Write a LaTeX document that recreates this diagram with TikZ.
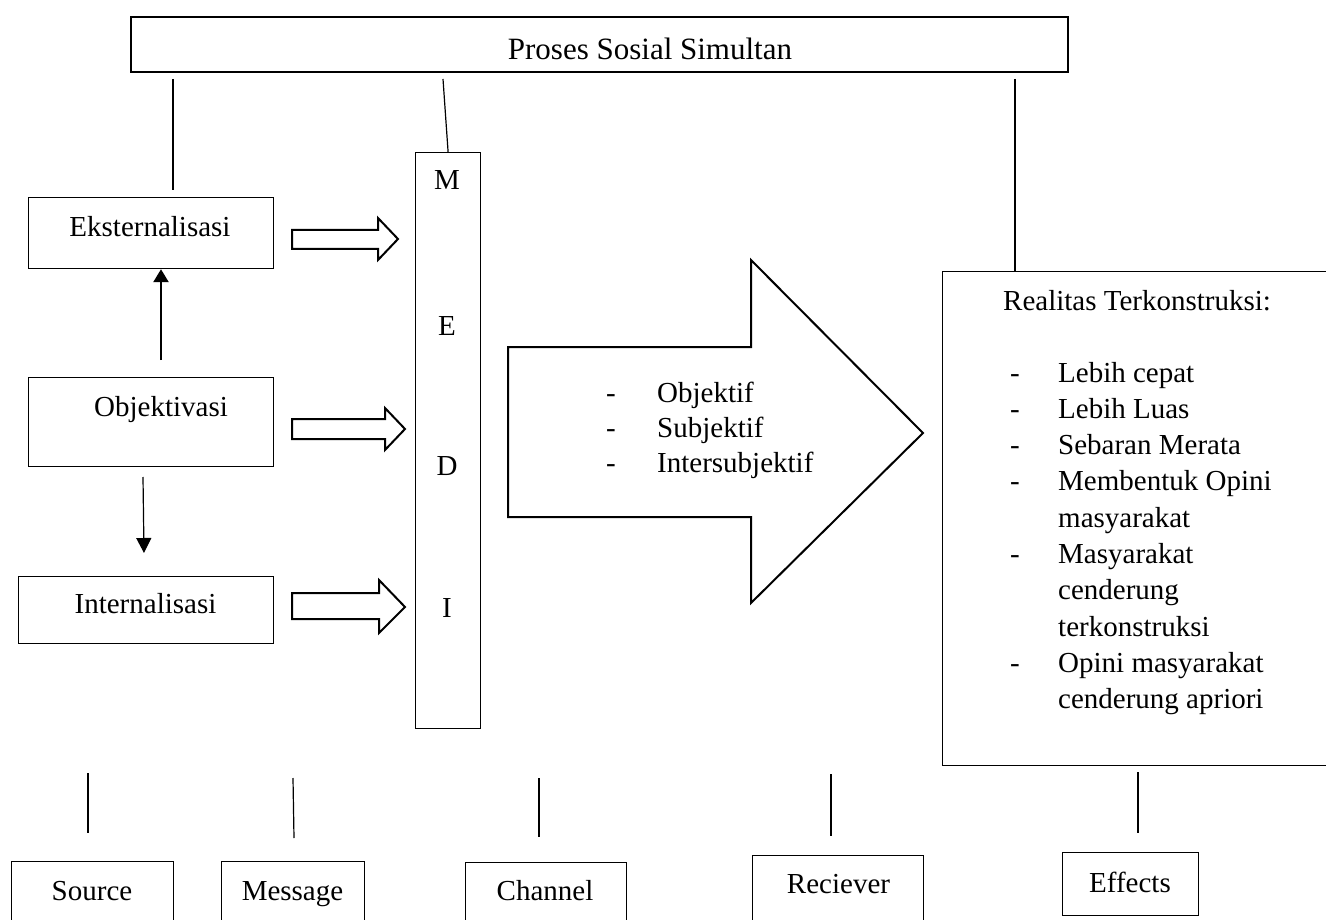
\documentclass[tikz,border=0pt]{standalone}
\usepackage{fontspec}
\setmainfont{Liberation Serif}
\usetikzlibrary{arrows.meta}
\begin{document}
\begin{tikzpicture}[x=1pt,y=-1pt,
  box/.style={draw, line width=1.2pt, inner sep=0pt, anchor=north west},
  txt/.style={inner sep=0pt, anchor=base, font=\fontsize{29}{36.5}\selectfont},
  ltxt/.style={inner sep=0pt, anchor=base west, font=\fontsize{29}{36.5}\selectfont},
  ln/.style={line width=1.2pt},
  blk/.style={draw, line width=2pt, line join=miter}]
\useasboundingbox (0,0) rectangle (1326,920);
\clip (0,0) rectangle (1326,920);

% top bar
\node[box, line width=2.4pt, minimum width=937pt, minimum height=55pt] (top) at (130,16) {};
\node[txt, font=\fontsize{31}{36}\selectfont] (ttop) at (650,60) {Proses Sosial Simultan};

% left boxes
\node[box, minimum width=245pt, minimum height=71pt] (eks) at (28,197) {};
\node[txt] (teks) at (150,237) {Eksternalisasi};
\node[box, minimum width=245pt, minimum height=89pt] (obj) at (28,377) {};
\node[txt] (tobj) at (161,416) {Objektivasi};
\node[box, minimum width=255pt, minimum height=67pt] (int) at (18,576) {};
\node[txt] (tint) at (145.5,613) {Internalisasi};

% media
\node[box, minimum width=65pt, minimum height=576pt] (media) at (415,152) {};
\node[txt] (lm) at (447,190) {M};
\node[txt] (le) at (447,335) {E};
\node[txt] (ld) at (447,475) {D};
\node[txt] (li) at (447,617) {I};

% realitas
\node[box, minimum width=400pt, minimum height=494pt] (real) at (942,271) {};
\node[ltxt] (treal) at (1003,310) {Realitas Terkonstruksi:};
\foreach \t/\d [count=\i from 0] in {Lebih cepat/1, Lebih Luas/1, Sebaran Merata/1, Membentuk Opini/1, masyarakat/0, Masyarakat/1, cenderung/0, terkonstruksi/0, Opini masyarakat/1, cenderung apriori/0}{
  \node[ltxt] (r\i) at (1058,382+36.3*\i) {\t};
  \ifnum\d=1 \node[ltxt] (rd\i) at (1010,382+36.3*\i) {-};\fi
}

% big arrow
\draw[blk] (508,347) -- (751,347) -- (751,260) -- (923,433) -- (751,603) -- (751,517) -- (508,517) -- cycle;
\foreach \t [count=\i from 0] in {Objektif, Subjektif, Intersubjektif}{
  \node[ltxt] (b\i) at (657,402+35*\i) {\t};
  \node[ltxt] (bd\i) at (606,402+35*\i) {-};
}

% block arrows
\draw[blk] (292,230) -- (378,230) -- (378,218) -- (398,239) -- (378,260) -- (378,249) -- (292,249) -- cycle;
\draw[blk] (292,419) -- (385,419) -- (385,408) -- (405,429) -- (385,450) -- (385,439) -- (292,439) -- cycle;
\draw[blk] (292,593) -- (379,593) -- (379,580) -- (405,607) -- (379,633) -- (379,619) -- (292,619) -- cycle;

% arrows between left boxes
\coordinate (upstart) at (161,360);
\draw[line width=2.4pt, -{Triangle[length=13pt,width=15pt]}] (upstart) -- (upstart |- eks.south);
\coordinate (dnstart) at (143,477);
\coordinate (dnend) at (144,553);
\draw[ln, -{Triangle[length=15pt,width=15pt]}] (dnstart) -- (dnend);

% lines from top bar
\coordinate (a1) at (173,79); \coordinate (a2) at (173,190);
\draw[ln] (a1) -- (a2);
\coordinate (b1) at (443,79);
\draw[ln] (b1) -- (media.north);
\coordinate (c1) at (1015,79);
\draw[ln] (c1) -- (c1 |- real.north);

% bottom boxes
\node[box, minimum width=162pt, minimum height=80pt] (src) at (11,861) {};
\node[txt] (tsrc) at (92,900) {Source};
\node[box, minimum width=143pt, minimum height=80pt] (msg) at (221,861) {};
\node[txt] (tmsg) at (292.5,900) {Message};
\node[box, minimum width=161pt, minimum height=80pt] (chn) at (465,862) {};
\node[txt] (tchn) at (545,900) {Channel};
\node[box, minimum width=171pt, minimum height=80pt] (rcv) at (752,855) {};
\node[txt] (trcv) at (838.5,893) {Reciever};
\node[box, minimum width=136pt, minimum height=63pt] (eff) at (1062,852) {};
\node[txt] (teff) at (1130,892) {Effects};

% bottom lines
\coordinate (s1) at (88,773); \coordinate (s2) at (88,833);
\draw[ln] (s1) -- (s2);
\coordinate (m1) at (293,778); \coordinate (m2) at (294,838);
\draw[ln] (m1) -- (m2);
\coordinate (h1) at (539,778); \coordinate (h2) at (539,837);
\draw[ln] (h1) -- (h2);
\coordinate (v1) at (831,774); \coordinate (v2) at (831,836);
\draw[ln] (v1) -- (v2);
\coordinate (e1) at (1138,772); \coordinate (e2) at (1138,833);
\draw[ln] (e1) -- (e2);
\end{tikzpicture}
\end{document}
